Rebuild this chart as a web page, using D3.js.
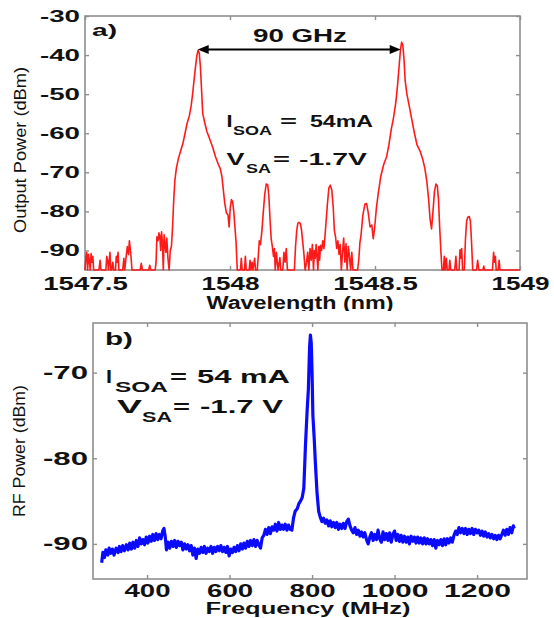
<!DOCTYPE html>
<html>
<head>
<meta charset="utf-8">
<script src="https://cdn.jsdelivr.net/npm/d3@7"></script>
<style>
  body { margin: 0; background: #fff; }
  svg { display: block; font-family: "Liberation Sans", Arial, sans-serif; }
</style>
</head>
<body>
<div id="chart"></div>
<script>
// ---- data ----
var wlTicks = [1547.5, 1548, 1548.5, 1549];
var opTicks = [-90, -80, -70, -60, -50, -40, -30];
var freqTicks = [400, 600, 800, 1000, 1200];
var rfTicks = [-90, -80, -70];

// optical spectrum, [wavelength nm, power dBm]
var optical = [
  [1547.500,-95],[1547.503,-91.5],[1547.506,-90.5],[1547.509,-95],[1547.512,-91],[1547.515,-92.5],
  [1547.518,-95],[1547.521,-90.8],[1547.524,-93],[1547.527,-91.5],[1547.530,-95],[1547.548,-95],
  [1547.552,-92.5],[1547.555,-95],[1547.572,-95],[1547.575,-91.5],[1547.578,-92.5],[1547.581,-95],
  [1547.586,-90.5],[1547.589,-95],[1547.592,-95],[1547.596,-93],[1547.599,-95],[1547.605,-95],
  [1547.608,-91.5],[1547.611,-93],[1547.614,-90.5],[1547.617,-95],[1547.630,-95],[1547.634,-92],
  [1547.637,-95],[1547.642,-91.5],[1547.646,-89],[1547.650,-91],[1547.653,-87.5],[1547.656,-89.5],
  [1547.659,-92],[1547.662,-95],[1547.690,-95],[1547.694,-93.3],[1547.698,-95],[1547.720,-95],
  [1547.723,-93.8],[1547.727,-95],[1547.742,-95],[1547.745,-93],[1547.748,-86.5],[1547.752,-87.5],
  [1547.755,-85.5],[1547.758,-86.3],[1547.761,-90],[1547.764,-85.2],[1547.767,-88],[1547.770,-95],
  [1547.773,-86],[1547.776,-88.5],[1547.779,-90.5],[1547.782,-86.8],[1547.786,-92],[1547.790,-95],
  [1547.794,-90],[1547.798,-89],
  [1547.802,-84],[1547.806,-77],[1547.810,-72],[1547.815,-69],[1547.822,-66.5],[1547.830,-64.5],
  [1547.838,-62.5],[1547.845,-60],[1547.852,-57.5],[1547.860,-55.5],[1547.866,-53],[1547.871,-50],
  [1547.876,-46.5],[1547.881,-43],[1547.886,-40],[1547.890,-38.8],[1547.894,-39.5],[1547.898,-43],
  [1547.902,-49],[1547.906,-55],[1547.912,-57],[1547.920,-59.5],[1547.930,-61.5],[1547.940,-63.5],
  [1547.950,-66],[1547.960,-68],[1547.966,-69],[1547.972,-71],[1547.977,-74.5],[1547.982,-78],
  [1547.988,-80.5],[1547.993,-80.8],[1547.997,-84],[1548.001,-79],[1548.005,-77],[1548.009,-77.5],
  [1548.013,-80],[1548.017,-84],[1548.021,-88],[1548.025,-95],
  [1548.036,-95],[1548.039,-92],[1548.042,-95],[1548.050,-95],[1548.053,-91.5],[1548.056,-95],
  [1548.066,-95],[1548.069,-92.5],[1548.072,-95],[1548.076,-93],[1548.079,-95],[1548.085,-92],
  [1548.088,-95],[1548.094,-95],[1548.098,-91],[1548.101,-87.5],[1548.105,-88.5],
  [1548.110,-85],[1548.115,-80],[1548.120,-75.5],[1548.125,-73],[1548.130,-73.2],[1548.134,-76],
  [1548.138,-82],[1548.142,-87],[1548.146,-89],[1548.150,-91.5],[1548.153,-89.5],[1548.156,-95],
  [1548.160,-90.5],[1548.163,-93],[1548.166,-95],[1548.172,-91.8],[1548.175,-95],[1548.182,-95],
  [1548.186,-90.5],[1548.190,-93],[1548.194,-89.5],[1548.198,-95],[1548.222,-95],[1548.226,-89],
  [1548.230,-85],[1548.234,-83],[1548.238,-82.8],[1548.243,-83.2],[1548.247,-85],[1548.251,-88],
  [1548.255,-91],[1548.259,-95],[1548.264,-93],[1548.268,-90.5],[1548.272,-95],[1548.276,-89.5],
  [1548.280,-92.5],[1548.284,-88.5],[1548.288,-95],[1548.291,-90],[1548.294,-92],[1548.297,-88.5],
  [1548.300,-91.5],[1548.303,-95],[1548.306,-89],[1548.309,-92.5],[1548.312,-88.7],[1548.316,-90],
  [1548.320,-87.5],[1548.324,-89.5],
  [1548.330,-84],[1548.336,-78],[1548.341,-74],[1548.346,-73.3],[1548.351,-74.5],[1548.356,-79],
  [1548.360,-85],[1548.364,-86.5],[1548.368,-89.5],[1548.372,-87.5],[1548.376,-91],[1548.380,-88.5],
  [1548.384,-95],[1548.388,-90.5],[1548.392,-86.8],[1548.396,-93],[1548.400,-88.3],[1548.404,-95],
  [1548.408,-89],[1548.412,-91.5],[1548.416,-95],[1548.420,-90.5],[1548.424,-95],[1548.440,-95],
  [1548.444,-92.5],[1548.448,-88],[1548.452,-86],[1548.458,-81],[1548.465,-78.2],[1548.471,-78],
  [1548.477,-80.5],[1548.483,-84],[1548.489,-83.5],[1548.494,-87],[1548.499,-84],
  [1548.505,-79],[1548.512,-75],[1548.520,-71],[1548.530,-68],[1548.540,-66],[1548.548,-63],
  [1548.556,-59],[1548.564,-56],[1548.572,-52],[1548.578,-47.5],[1548.583,-43],[1548.588,-38.5],
  [1548.592,-36.7],[1548.596,-37.5],[1548.600,-41],[1548.604,-46.5],[1548.610,-50],[1548.618,-53],
  [1548.627,-56.5],[1548.636,-60],[1548.645,-63],[1548.655,-64.5],[1548.664,-66.5],[1548.672,-69],
  [1548.679,-72.5],[1548.685,-77],[1548.690,-82],[1548.695,-84.5],[1548.700,-80],[1548.705,-75],
  [1548.710,-73],[1548.715,-73.5],[1548.719,-77],[1548.723,-84],[1548.727,-90],[1548.731,-95],
  [1548.736,-95],[1548.739,-91.5],[1548.742,-95],[1548.746,-92],[1548.749,-95],[1548.755,-95],
  [1548.758,-92.5],[1548.761,-95],[1548.775,-95],[1548.779,-91.5],[1548.782,-95],[1548.790,-95],
  [1548.793,-89.8],[1548.796,-92],[1548.799,-89.5],[1548.802,-95],[1548.808,-95],[1548.812,-87],
  [1548.816,-82.5],[1548.820,-81.5],[1548.825,-81.3],[1548.829,-82.5],[1548.833,-88],[1548.837,-95],
  [1548.850,-95],[1548.854,-92.5],[1548.858,-95],[1548.872,-95],[1548.875,-94],[1548.878,-95],
  [1548.905,-95],[1548.909,-90.5],[1548.912,-93],[1548.915,-91.5],[1548.918,-95],[1548.925,-95],
  [1548.928,-92.5],[1548.931,-95],[1549.000,-95]
];

// RF spectrum, [frequency MHz, power dBm]
var rf = [
  [290,-92.2],[293,-91.0],[297,-91.6],[300,-90.7],[305,-91.3],[308,-90.5],[312,-91.1],[316,-90.6],
  [320,-91.3],[325,-90.5],[330,-91.0],[333,-90.3],[337,-90.9],[341,-90.2],[345,-90.8],[350,-90.1],
  [354,-90.7],[358,-89.9],[362,-90.6],[366,-89.8],[370,-90.5],[374,-89.6],[378,-90.3],[382,-89.3],
  [386,-90.0],[390,-89.5],[394,-90.1],[398,-89.2],[402,-89.9],[406,-89.1],[410,-89.7],[414,-88.9],
  [418,-89.6],[422,-88.8],[426,-89.5],[430,-88.9],[434,-89.4],[438,-88.5],[441,-88.2],[444,-89.1],
  [447,-90.7],[451,-89.8],[455,-90.5],[459,-89.7],[463,-90.3],[467,-89.6],[471,-90.4],[475,-89.7],
  [479,-90.2],[483,-89.8],[487,-90.7],[491,-90.0],[495,-90.6],[499,-90.1],[503,-90.8],[507,-90.2],
  [511,-91.3],[515,-90.5],[519,-91.7],[523,-90.6],[527,-91.1],[531,-90.4],[535,-91.0],[539,-90.3],
  [543,-91.1],[547,-90.5],[551,-90.9],[555,-90.3],[559,-91.1],[563,-90.4],[567,-90.9],[571,-90.3],
  [575,-90.8],[579,-90.2],[583,-90.9],[587,-90.4],[591,-91.0],[595,-90.3],[599,-91.4],[603,-90.6],
  [607,-91.0],[611,-90.4],[615,-90.9],[619,-90.2],[623,-90.8],[627,-90.0],[631,-90.6],[635,-89.9],
  [639,-90.5],[643,-89.7],[647,-90.3],[651,-89.6],[655,-90.2],[659,-89.5],[663,-90.3],[667,-89.6],
  [671,-90.1],[675,-90.5],[679,-89.3],[683,-89.0],[687,-88.3],[691,-88.9],[695,-88.1],[699,-88.8],
  [703,-88.0],[707,-88.4],[711,-87.7],[715,-88.5],[719,-87.5],[723,-88.3],[727,-87.8],[731,-88.3],
  [735,-87.7],[739,-88.4],[743,-87.8],[747,-88.3],[751,-88.4],[755,-87.0],[759,-86.2],[764,-85.9],
  [768,-85.3],[772,-85.0],[776,-84.6],[780,-83.5],[784,-78.5],[788,-74.5],[791,-72],[794,-67],
  [796,-65.6],[798,-66.5],[800,-70],[802,-75],[805,-77.5],[808,-80.5],[812,-84],[816,-86.2],
  [820,-86.9],[824,-87.4],[828,-87.0],[832,-87.6],[836,-87.2],[840,-87.9],[844,-87.3],[848,-88.0],
  [852,-87.5],[856,-88.1],[860,-87.5],[864,-88.3],[868,-87.7],[872,-88.2],[876,-87.6],[880,-88.2],
  [884,-87.4],[888,-87.1],[892,-87.9],[896,-88.4],[900,-88.7],[904,-88.1],[908,-88.9],[912,-88.4],
  [916,-89.1],[920,-88.6],[924,-89.2],[928,-88.7],[932,-89.5],[936,-90.0],[940,-89.2],[944,-88.7],
  [948,-89.6],[952,-88.9],[956,-89.5],[960,-88.4],[964,-89.4],[968,-89.8],[972,-88.6],[976,-89.5],
  [980,-88.8],[984,-89.6],[988,-88.7],[992,-89.8],[996,-88.9],[1000,-88.5],[1004,-89.6],[1008,-88.9],
  [1012,-89.7],[1016,-89.0],[1020,-89.8],[1024,-89.1],[1028,-89.8],[1032,-89.2],[1036,-90.0],[1040,-89.1],
  [1044,-89.7],[1048,-89.2],[1052,-89.9],[1056,-89.2],[1060,-89.9],[1064,-89.3],[1068,-90.0],[1072,-89.3],
  [1076,-90.0],[1080,-89.4],[1084,-90.0],[1088,-89.5],[1092,-90.2],[1096,-89.5],[1100,-90.5],[1104,-89.6],
  [1108,-90.1],[1112,-89.5],[1116,-90.2],[1120,-89.4],[1124,-90.1],[1128,-89.4],[1132,-89.9],[1136,-89.3],
  [1140,-89.8],[1144,-89.0],[1148,-88.5],[1152,-88.9],[1156,-88.1],[1160,-88.7],[1164,-88.2],[1168,-88.8],
  [1172,-88.2],[1176,-88.9],[1180,-88.3],[1184,-88.8],[1188,-88.2],[1192,-88.9],[1196,-88.3],[1200,-88.7],
  [1204,-88.4],[1208,-89.0],[1212,-88.5],[1216,-89.1],[1220,-88.6],[1224,-89.2],[1228,-88.8],[1232,-89.3],
  [1236,-88.9],[1240,-89.4],[1244,-89.0],[1248,-89.5],[1252,-89.0],[1256,-89.4],[1260,-88.9],[1264,-88.4],
  [1268,-89.0],[1272,-88.3],[1276,-88.9],[1280,-88.1],[1284,-88.7],[1288,-87.9],[1290,-88.2]
];

// the two modes the 90 GHz arrow spans, and the arrow's level
var modePeaks = [1547.892, 1548.592];
var arrowLevel = -38.6;

var W = 554, H = 618;
var boxColor = "#8f8f8f";

var svg = d3.select("#chart")
  .append("svg")
  .attr("width", W)
  .attr("height", H);

svg.append("rect").attr("width", W).attr("height", H).attr("fill", "#fff");

function addText(g, str, x, y, size, weight, width, anchor) {
  return g.append("text")
    .attr("x", x)
    .attr("y", y)
    .attr("font-size", size)
    .attr("font-weight", weight)
    .attr("text-anchor", anchor || "start")
    .attr("fill", "#111")
    .attr("textLength", width)
    .attr("lengthAdjust", "spacingAndGlyphs")
    .text(str);
}

// draws box, inner ticks on all four sides and tick labels
function drawFrame(g, x, y, opt) {
  var x0 = x.range()[0], x1 = x.range()[1];
  var y0 = y.range()[0], y1 = y.range()[1];
  var plain = function(d) { return String(d); };

  g.append("rect")
   .attr("x", x0).attr("y", y1)
   .attr("width", x1 - x0).attr("height", y0 - y1)
   .attr("fill", "none")
   .attr("stroke", boxColor)
   .attr("stroke-width", 1.6);

  var bottom = g.append("g")
    .attr("transform", "translate(0," + y0 + ")")
    .call(d3.axisBottom(x).tickValues(opt.xTicks).tickSizeInner(-4).tickSizeOuter(0).tickFormat(plain));
  var left = g.append("g")
    .attr("transform", "translate(" + x0 + ",0)")
    .call(d3.axisLeft(y).tickValues(opt.yTicks).tickSizeInner(-4).tickSizeOuter(0).tickFormat(plain));
  g.append("g")
    .attr("transform", "translate(0," + y1 + ")")
    .call(d3.axisTop(x).tickValues(opt.xTicks).tickSizeInner(-4).tickSizeOuter(0).tickFormat(""));
  g.append("g")
    .attr("transform", "translate(" + x1 + ",0)")
    .call(d3.axisRight(y).tickValues(opt.yTicks).tickSizeInner(-4).tickSizeOuter(0).tickFormat(""));

  g.selectAll(".domain").remove();
  g.selectAll(".tick line").attr("stroke", boxColor).attr("stroke-width", 1.4);

  bottom.selectAll("text")
    .attr("y", opt.xLabelY)
    .attr("dy", 0)
    .attr("fill", "#111")
    .attr("font-size", opt.xFont)
    .attr("font-weight", "bold")
    .attr("font-family", "Liberation Sans, Arial, sans-serif")
    .attr("textLength", opt.xWidth)
    .attr("lengthAdjust", "spacingAndGlyphs");

  left.selectAll("text")
    .attr("x", -5)
    .attr("fill", "#111")
    .attr("font-size", opt.yFont)
    .attr("font-weight", "bold")
    .attr("font-family", "Liberation Sans, Arial, sans-serif")
    .attr("textLength", opt.yWidth)
    .attr("lengthAdjust", "spacingAndGlyphs");
}

// ---------- panel a) ----------
var xA = d3.scaleLinear().domain([1547.5, 1549]).range([85, 520]);
var yA = d3.scaleLinear().domain([-95, -30]).range([270, 16]);
var gA = svg.append("g");

drawFrame(gA, xA, yA, {
  xTicks: wlTicks, yTicks: opTicks,
  xLabelY: 20, xFont: 18, yFont: 16,
  xWidth: function(d) { var s = String(d); return s.replace(".", "").length * 14.5 + (s.indexOf(".") >= 0 ? 12 : 0); },
  yWidth: 40
});

var lineA = d3.line().x(d => xA(d[0])).y(d => yA(d[1]));
gA.append("path")
  .datum(optical)
  .attr("d", lineA)
  .attr("fill", "none")
  .attr("stroke", "#ff1a1a")
  .attr("stroke-width", 1.6)
  .attr("stroke-linejoin", "round");

// 90 GHz arrow between the two modes
var ay = yA(arrowLevel);
var ax0 = xA(modePeaks[0]) - 1, ax1 = xA(modePeaks[1]) - 1;
gA.append("line")
  .attr("x1", ax0 + 8).attr("x2", ax1 - 8)
  .attr("y1", ay).attr("y2", ay)
  .attr("stroke", "#000").attr("stroke-width", 2);
gA.append("path")
  .attr("d", "M" + ax0 + "," + ay + "l11,-4.5l0,9z")
  .attr("fill", "#000");
gA.append("path")
  .attr("d", "M" + ax1 + "," + ay + "l-11,-4.5l0,9z")
  .attr("fill", "#000");

addText(gA, "90 GHz", 253, 42, 18, "bold", 94);
addText(gA, "a)", 92, 36, 17, "bold", 25);

addText(gA, "I", 226.5, 127, 17, "bold", 6);
addText(gA, "SOA", 233, 135, 13, "bold", 39);
addText(gA, "=", 280, 127, 17, "bold", 17);
addText(gA, "54mA", 310, 127, 17, "bold", 63);
addText(gA, "V", 226.5, 165, 17, "bold", 18);
addText(gA, "SA", 246, 173, 13, "bold", 25);
addText(gA, "=", 273, 165, 17, "bold", 17);
addText(gA, "-1.7V", 299, 165, 17, "bold", 68);

addText(gA, "Wavelength (nm)", 300, 309, 18, "bold", 187, "middle");
gA.append("text")
  .attr("transform", "translate(26,150) rotate(-90)")
  .attr("text-anchor", "middle")
  .attr("font-size", 16)
  .attr("fill", "#111")
  .attr("textLength", 166)
  .attr("lengthAdjust", "spacingAndGlyphs")
  .text("Output Power (dBm)");

// bottom figure sits on its own white sheet, hiding the descenders above
svg.append("rect").attr("x", 0).attr("y", 311).attr("width", W).attr("height", H - 311).attr("fill", "#fff");

// ---------- panel b) ----------
var xB = d3.scaleLinear().domain([269, 1321]).range([93, 527]);
var yB = d3.scaleLinear().domain([-94.1, -64.2]).range([579, 323]);
var gB = svg.append("g");

drawFrame(gB, xB, yB, {
  xTicks: freqTicks, yTicks: rfTicks,
  xLabelY: 18, xFont: 18, yFont: 18,
  xWidth: function(d) { return String(d).length > 3 ? 67 : 46; },
  yWidth: 45
});

var lineB = d3.line().x(d => xB(d[0])).y(d => yB(d[1]));
gB.append("path")
  .datum(rf)
  .attr("d", lineB)
  .attr("fill", "none")
  .attr("stroke", "#0a0aff")
  .attr("stroke-width", 3.2)
  .attr("stroke-linejoin", "round");

addText(gB, "b)", 105, 345, 18, "bold", 28);

addText(gB, "I", 106, 383, 18, "bold", 6);
addText(gB, "SOA", 115, 392, 14, "bold", 53);
addText(gB, "=", 170, 383, 18, "bold", 17);
addText(gB, "54 mA", 197, 383, 18, "bold", 93);
addText(gB, "V", 117, 413, 18, "bold", 25);
addText(gB, "SA", 142, 422, 14, "bold", 30);
addText(gB, "=", 173, 413, 18, "bold", 17);
addText(gB, "-1.7 V", 200, 413, 18, "bold", 83);

addText(gB, "Frequency (MHz)", 308, 614, 16, "bold", 205, "middle");
gB.append("text")
  .attr("transform", "translate(25,451) rotate(-90)")
  .attr("text-anchor", "middle")
  .attr("font-size", 16)
  .attr("fill", "#111")
  .attr("textLength", 132)
  .attr("lengthAdjust", "spacingAndGlyphs")
  .text("RF Power (dBm)");
</script>
</body>
</html>
